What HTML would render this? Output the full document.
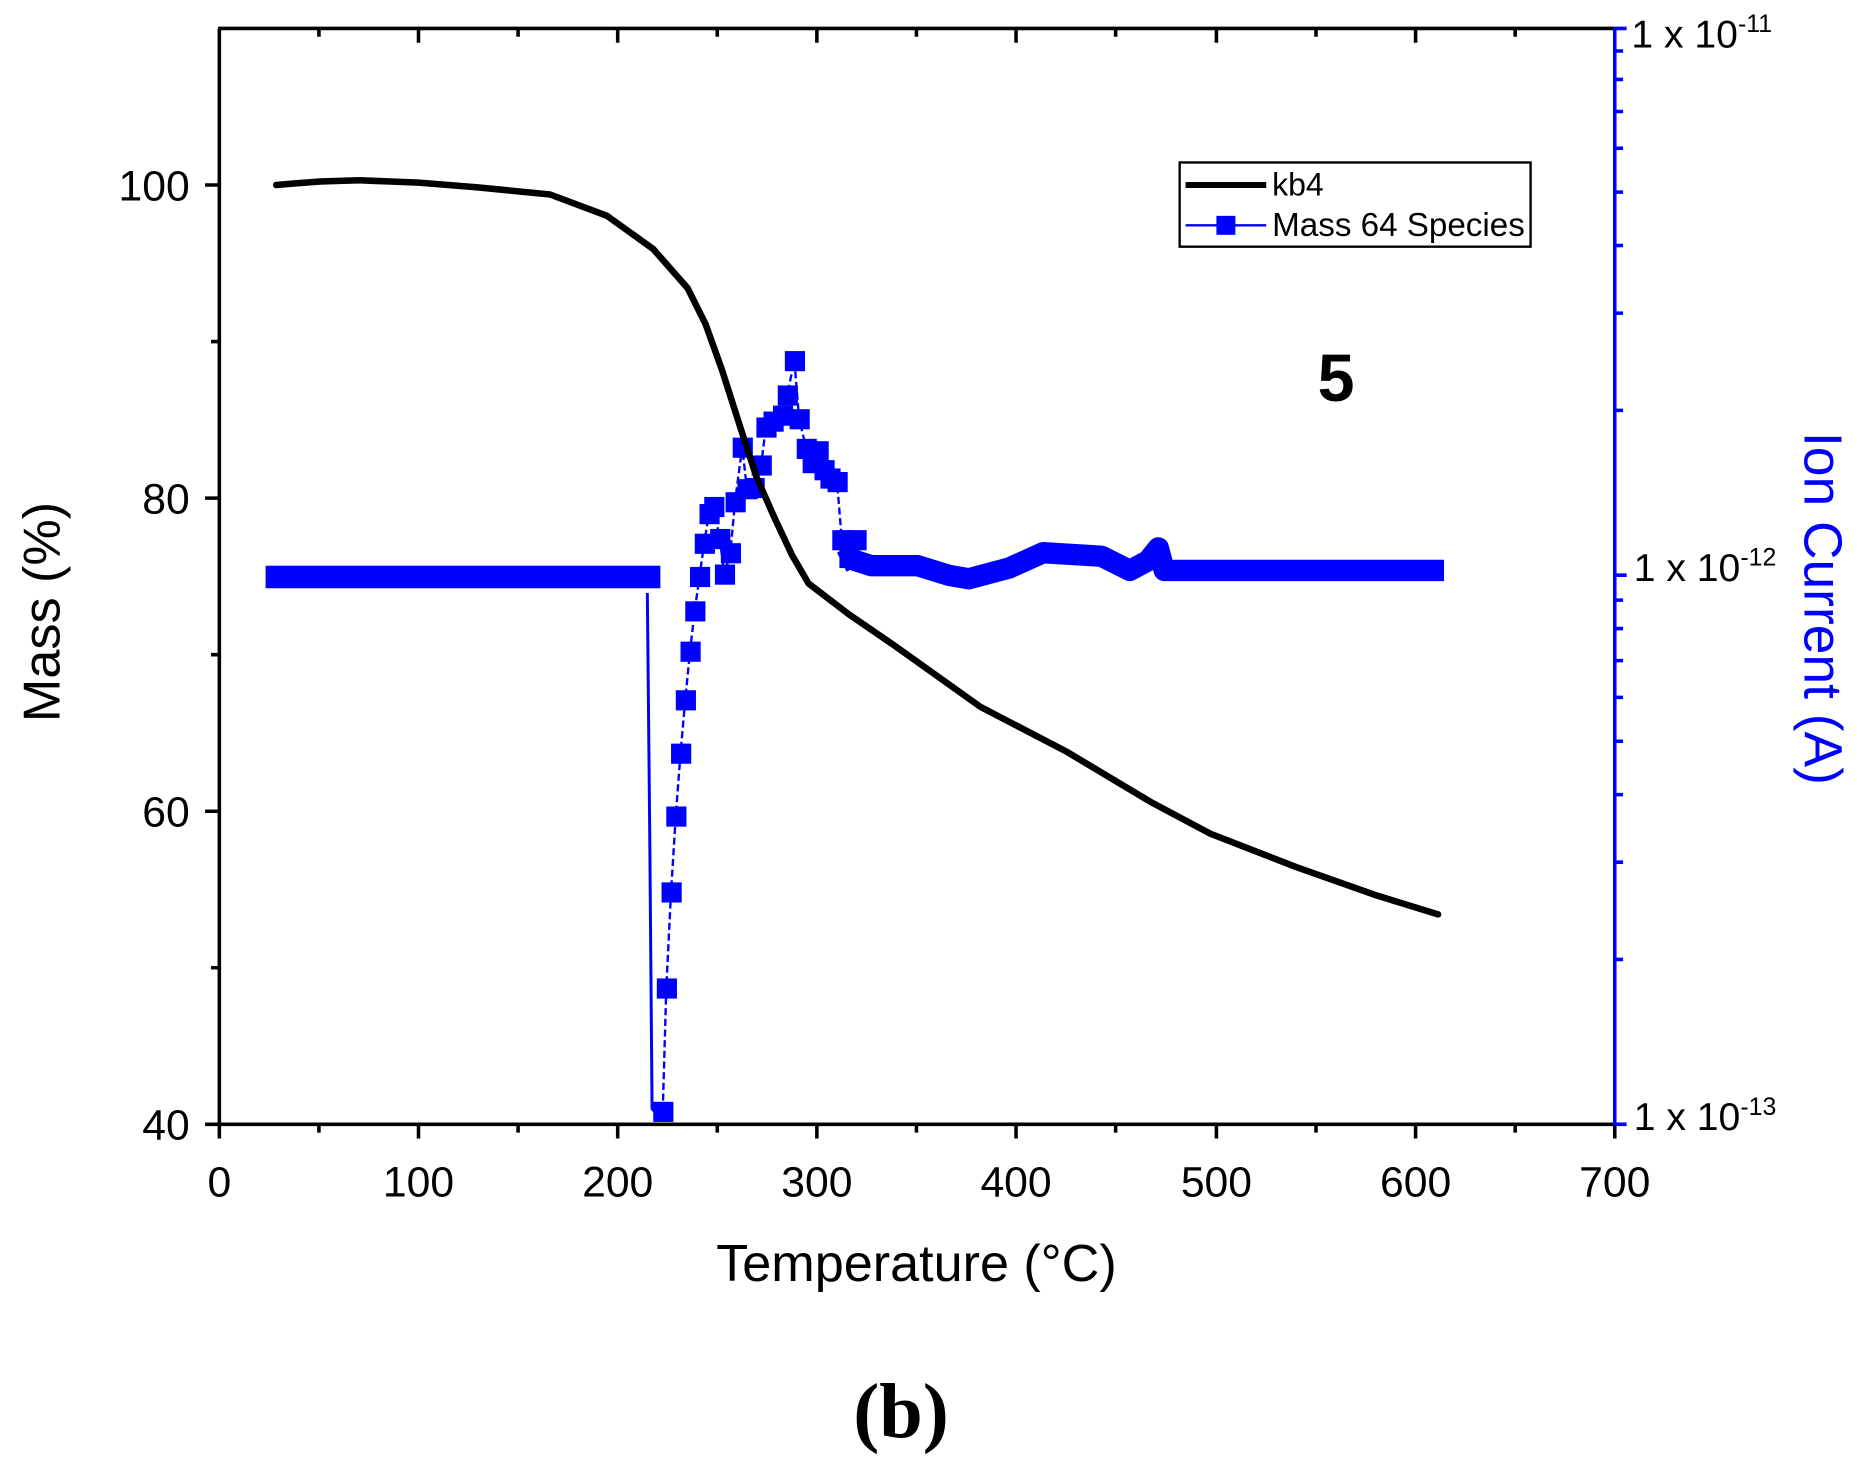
<!DOCTYPE html>
<html><head><style>html,body{margin:0;padding:0;background:#fff}svg{display:block}</style></head><body>
<svg width="1859" height="1473" viewBox="0 0 1568 1242" preserveAspectRatio="none" xmlns="http://www.w3.org/2000/svg" font-family="Liberation Sans, sans-serif">
<rect width="1568" height="1242" fill="#fff"/>
<g stroke="#000" stroke-width="3" fill="none">
<line x1="185" y1="24" x2="185" y2="949"/>
<line x1="184" y1="948" x2="1362" y2="948"/>
<line x1="184" y1="24" x2="1362" y2="24"/>
<path d="M185 948v12M353 948v12M521 948v12M689 948v12M857 948v12M1026 948v12M1194 948v12M1362 948v12M269 948v7M437 948v7M605 948v7M773 948v7M941 948v7M1110 948v7M1278 948v7"/>
<path d="M353 24v12M521 24v12M689 24v12M857 24v12M1026 24v12M1194 24v12M269 24v7M437 24v7M605 24v7M773 24v7M941 24v7M1110 24v7M1278 24v7"/>
<path d="M185 948h-12M185 684h-12M185 420h-12M185 156h-12M185 816h-7M185 552h-7M185 288h-7"/>
</g>
<g stroke="#0000ff" stroke-width="3" fill="none">
<line x1="1362" y1="24" x2="1362" y2="949"/>
<path d="M1362 948h10M1362 485h10M1362 24h10
M1362 809h7M1362 727h7M1362 670h7M1362 625h7M1362 588h7M1362 557h7M1362 530h7M1362 506h7
M1362 346h7M1362 264h7M1362 207h7M1362 162h7M1362 125h7M1362 94h7M1362 67h7M1362 43h7"/>
</g>
<g font-size="36" fill="#000" text-anchor="middle">
<text x="185" y="1009">0</text><text x="353" y="1009">100</text><text x="521" y="1009">200</text><text x="689" y="1009">300</text><text x="857" y="1009">400</text><text x="1026" y="1009">500</text><text x="1194" y="1009">600</text><text x="1362" y="1009">700</text>
</g>
<g font-size="36" fill="#000" text-anchor="end">
<text x="160" y="961">40</text><text x="160" y="697">60</text><text x="160" y="433">80</text><text x="160" y="169">100</text>
</g>
<g font-size="33" fill="#000">
<text x="1376" y="40">1 x 10<tspan font-size="21" dy="-13">-11</tspan></text>
<text x="1378" y="490">1 x 10<tspan font-size="21" dy="-13">-12</tspan></text>
<text x="1378" y="953">1 x 10<tspan font-size="21" dy="-13">-13</tspan></text>
</g>
<text x="773" y="1080" font-size="44" text-anchor="middle">Temperature (°C)</text>
<text transform="translate(50,516) rotate(-90)" font-size="44" text-anchor="middle">Mass (%)</text>
<text transform="translate(1522,513) rotate(90)" font-size="45" text-anchor="middle" fill="#0000ff">Ion Current (A)</text>
<text x="1127" y="338" font-size="56" font-weight="bold" text-anchor="middle">5</text>
<text x="760" y="1212" font-size="66" font-weight="bold" text-anchor="middle" font-family="Liberation Serif, serif">(b)</text>
<rect x="995" y="137" width="296" height="71" fill="#fff" stroke="#000" stroke-width="2"/>
<line x1="1000" y1="156" x2="1068" y2="156" stroke="#000" stroke-width="5"/>
<text x="1073" y="165" font-size="27">kb4</text>
<line x1="1000" y1="190" x2="1068" y2="190" stroke="#0000ff" stroke-width="2"/>
<rect x="1026" y="182" width="16" height="16" fill="#0000ff"/>
<text x="1073" y="199" font-size="28">Mass 64 Species</text>
<rect x="224" y="477" width="333" height="19" fill="#0000ff"/>
<polyline fill="none" stroke="#0000ff" stroke-width="2.5" points="546,500 548,700 550,935 555,940 559,937"/>
<polyline fill="none" stroke="#0000ff" stroke-width="2" stroke-dasharray="6,3" points="559,937 562,833 566,752 570,688 574,635 578,590 582,549 586,515 590,486 594,458 598,433 602,427 607,454 611,484 616,466 620,423 626,377 630,412 636,411 642,392 646,360 652,355 660,350 664,333 670,304 674,353 680,378 685,390 690,380 695,396 700,403 706,406 710,455 716,470 722,455 730,478"/>
<g fill="#0000ff">
<rect x="551" y="929" width="17" height="17"/><rect x="554" y="825" width="17" height="17"/><rect x="558" y="744" width="17" height="17"/><rect x="562" y="680" width="17" height="17"/><rect x="566" y="627" width="17" height="17"/><rect x="570" y="582" width="17" height="17"/><rect x="574" y="541" width="17" height="17"/><rect x="578" y="507" width="17" height="17"/><rect x="582" y="478" width="17" height="17"/><rect x="586" y="450" width="17" height="17"/><rect x="590" y="425" width="17" height="17"/><rect x="594" y="419" width="17" height="17"/><rect x="599" y="446" width="17" height="17"/><rect x="603" y="476" width="17" height="17"/><rect x="608" y="458" width="17" height="17"/><rect x="612" y="415" width="17" height="17"/><rect x="618" y="369" width="17" height="17"/><rect x="622" y="404" width="17" height="17"/><rect x="628" y="403" width="17" height="17"/><rect x="634" y="384" width="17" height="17"/><rect x="638" y="352" width="17" height="17"/><rect x="644" y="347" width="17" height="17"/><rect x="652" y="342" width="17" height="17"/><rect x="656" y="325" width="17" height="17"/><rect x="662" y="296" width="17" height="17"/><rect x="666" y="345" width="17" height="17"/><rect x="672" y="370" width="17" height="17"/><rect x="677" y="382" width="17" height="17"/><rect x="682" y="372" width="17" height="17"/><rect x="687" y="388" width="17" height="17"/><rect x="692" y="395" width="17" height="17"/><rect x="698" y="398" width="17" height="17"/><rect x="702" y="447" width="17" height="17"/><rect x="708" y="462" width="17" height="17"/><rect x="714" y="447" width="17" height="17"/>
</g>
<polyline fill="none" stroke="#0000ff" stroke-width="18" stroke-linejoin="round" points="710,474 716,471 735,477 774,477 800,485 817,488 851,479 880,466 929,469 953,481 968,473 977,462 982,481 1218,481"/>
<polyline fill="none" stroke="#000" stroke-width="5.5" stroke-linejoin="round" stroke-linecap="round" points="233,156 244,155 270,153 303,152 353,154 403,158 464,164 512,182 551,210 580,243 595,273 609,312 624,359 638,402 653,436 668,468 682,492 716,518 754,544 827,596 900,634 972,677 1021,703 1093,731 1161,755 1213,771"/>
</svg>
</body></html>
